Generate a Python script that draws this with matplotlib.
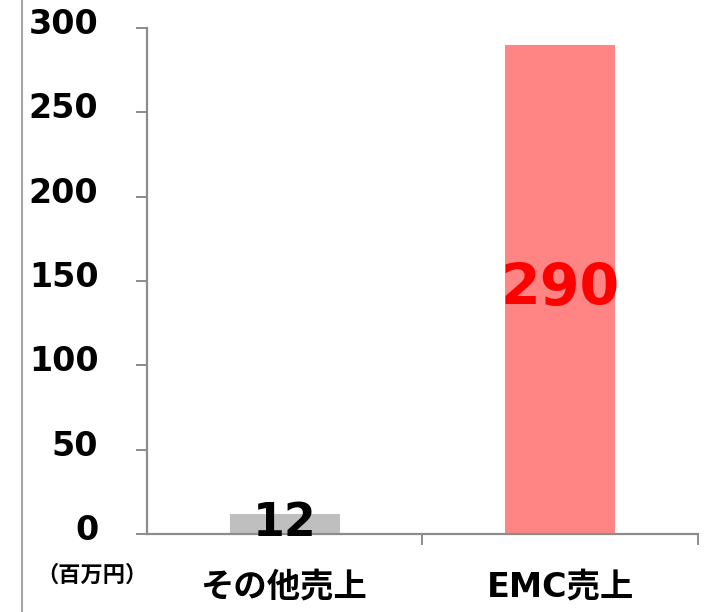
import matplotlib
matplotlib.use('Agg')
import matplotlib.pyplot as plt
import matplotlib.transforms as mtransforms
from matplotlib.lines import Line2D

# data
categories = ['その他売上', 'EMC売上']
values = [12, 290]
bar_colors = ['#BFBFBF', '#FF8585']
label_colors = ['black', '#FF0000']
label_sizes = [33, 41]
y_ticks = [0, 50, 100, 150, 200, 250, 300]
unit_label = '（百万円）'

plt.rcParams['font.family'] = ['DejaVu Sans', 'Noto Sans CJK JP']
plt.rcParams['font.weight'] = 'bold'

fig = plt.figure(figsize=(7.15, 6.12), dpi=100)
ax = fig.add_axes([0.2056, 0.1275, 0.9762 - 0.2056, 0.9542 - 0.1275])

x = list(range(len(categories)))
ax.bar(x, values, width=0.40, color=bar_colors, zorder=2)

# value labels in the middle of each bar
for xi, v, c, s in zip(x, values, label_colors, label_sizes):
    ax.text(xi, v / 2, str(v), ha='center', va='center', color=c,
            fontsize=s, fontweight='bold', zorder=3)

# axes limits and spines
ax.set_xlim(-0.5, len(categories) - 0.5)
ax.set_ylim(0, 300)
for side in ['top', 'right']:
    ax.spines[side].set_visible(False)
for side in ['left', 'bottom']:
    ax.spines[side].set_color('#8C8C8C')
    ax.spines[side].set_linewidth(1.6)

# y ticks
ax.set_yticks(y_ticks)
ax.set_yticklabels([str(t) for t in y_ticks], fontsize=24, fontweight='bold')
ax.tick_params(axis='y', length=8, width=1.4, color='#8C8C8C', pad=27)
offset = mtransforms.ScaledTranslation(0, 5 / 72, fig.dpi_scale_trans)
for lbl in ax.get_yticklabels():
    lbl.set_transform(lbl.get_transform() + offset)

# x ticks at category boundaries, labels at centers
ax.set_xticks([0.5, 1.5])
ax.set_xticklabels([])
ax.tick_params(axis='x', length=8, width=1.4, color='#8C8C8C')
for xi, cat in zip(x, categories):
    ax.text(xi, -0.105, cat, transform=ax.get_xaxis_transform(),
            ha='center', va='center', fontsize=24, fontweight='bold',
            family=['DejaVu Sans', 'Noto Sans CJK JP'])

# unit label
fig.text(0.129, 1 - 575 / 612, unit_label, ha='center', va='center',
         fontsize=16, fontweight='bold', family=['Noto Sans CJK JP'])

# decorative line on the left
fig.add_artist(Line2D([22 / 715, 22 / 715], [0, 1], color='#A6A6A6',
                      linewidth=1.5, transform=fig.transFigure))

fig.savefig('out.png', dpi=100)
